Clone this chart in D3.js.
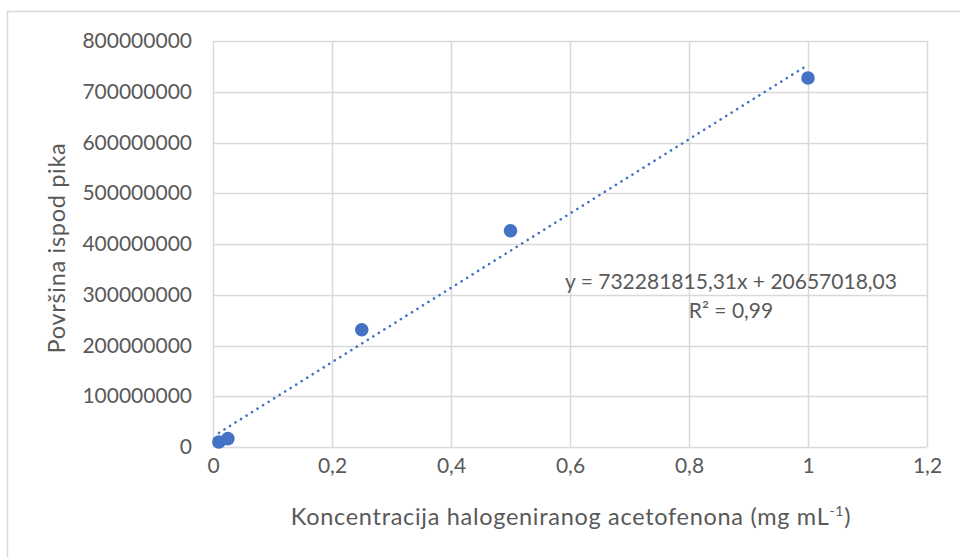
<!DOCTYPE html>
<html><head><meta charset="utf-8">
<script src="https://cdn.jsdelivr.net/npm/d3@7"></script>
<style>body{margin:0;background:#fff}svg{display:block}text{font-family:Lato,"Open Sans",sans-serif;fill:#595959}</style>
</head><body>
<svg id="c" width="960" height="557"></svg>
<script>
const concentrations = [0.01, 0.025, 0.25, 0.5, 1];
const areas = [10000000, 16500000, 231000000, 426000000, 727000000];
const xTicks = [0, 0.2, 0.4, 0.6, 0.8, 1, 1.2];
const yTicks = [0, 100000000, 200000000, 300000000, 400000000, 500000000, 600000000, 700000000, 800000000];
const slope = 732281815.31, intercept = 20657018.03;
const eqLabel = "y = 732281815,31x + 20657018,03";
const r2Label = "R² = 0,99";
const xTitle = "Koncentracija halogeniranog acetofenona (mg mL";
const yTitle = "Površina ispod pika";

const svg = d3.select("#c");
const x = d3.scaleLinear().domain([0, 1.2]).range([213, 927]);
const y = d3.scaleLinear().domain([0, 800000000]).range([447, 41]);
const grid = "#d9d9d9";

svg.append("rect").attr("x", 7.5).attr("y", 11.5).attr("width", 980).attr("height", 580)
  .attr("fill", "none").attr("stroke", grid).attr("stroke-width", 1.5);

// gridlines
svg.append("g").selectAll("line").data(yTicks).join("line")
  .attr("x1", x(0)).attr("x2", x(1.2)).attr("y1", d => Math.round(y(d)) + 0.5).attr("y2", d => Math.round(y(d)) + 0.5)
  .attr("stroke", grid).attr("stroke-width", 1.5);
svg.append("g").selectAll("line").data(xTicks).join("line")
  .attr("y1", y(0)).attr("y2", y(800000000)).attr("x1", d => Math.round(x(d)) + 0.5).attr("x2", d => Math.round(x(d)) + 0.5)
  .attr("stroke", grid).attr("stroke-width", 1.5);

const fmt = d => String(d).replace(".", ",");
const yAxis = svg.append("g").attr("transform", `translate(${x(0)},0)`)
  .call(d3.axisLeft(y).tickValues(yTicks).tickSize(0).tickPadding(21).tickFormat(d => String(d)));
const xAxis = svg.append("g").attr("transform", `translate(0,${y(0)})`)
  .call(d3.axisBottom(x).tickValues(xTicks).tickSize(0).tickPadding(11).tickFormat(fmt));
[yAxis, xAxis].forEach(a => {
  a.select(".domain").remove();
  a.selectAll("text").style("font-size", "21px").attr("fill", "#595959");
});

// trendline
const tl = d3.line().x(d => x(d)).y(d => y(slope * d + intercept));
svg.append("path").datum([d3.min(concentrations), d3.max(concentrations)]).attr("d", tl)
  .attr("fill", "none").attr("stroke", "#4472C4").attr("stroke-width", 2.6)
  .attr("stroke-linecap", "round").attr("stroke-dasharray", "0.1 6.4");

// points
svg.append("g").selectAll("circle").data(concentrations).join("circle")
  .attr("cx", d => x(d)).attr("cy", (d, i) => y(areas[i])).attr("r", 6.8).attr("fill", "#4472C4");

// equation
svg.append("text").attr("x", 731).attr("y", 289).attr("text-anchor", "middle").style("font-size", "21px").text(eqLabel);
svg.append("text").attr("x", 731).attr("y", 318).attr("text-anchor", "middle").style("font-size", "21px").text(r2Label);

// titles
const xt = svg.append("text").attr("x", 571).attr("y", 525).attr("text-anchor", "middle")
  .style("font-size", "23.5px").style("letter-spacing", "0.7px");
xt.append("tspan").text(xTitle);
xt.append("tspan").attr("dy", -9).style("font-size", "14px").text("-1");
xt.append("tspan").attr("dy", 9).text(")");
svg.append("text").attr("transform", "translate(65,248) rotate(-90)").attr("text-anchor", "middle")
  .style("font-size", "23.5px").style("letter-spacing", "0.7px").text(yTitle);
</script>
</body></html>
